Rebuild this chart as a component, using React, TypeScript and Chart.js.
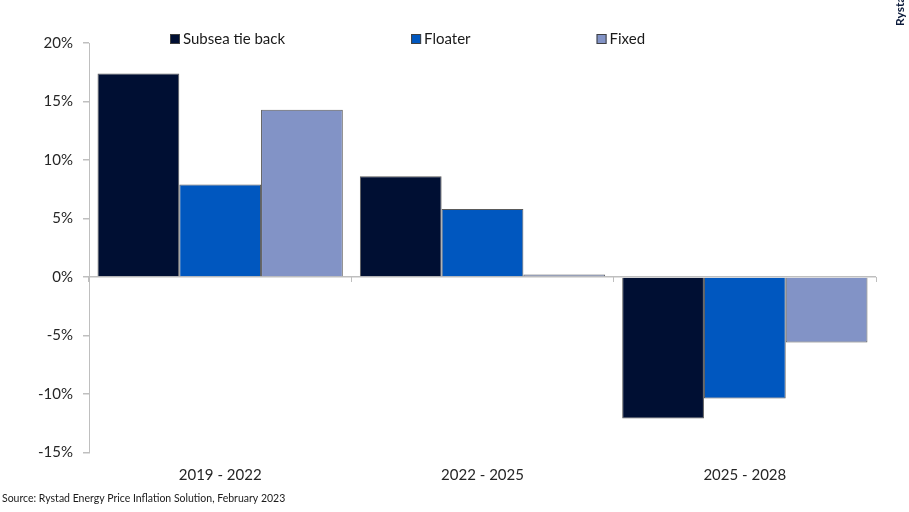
import React, { useRef, useEffect } from 'react'
import { Chart, registerables } from 'chart.js'

Chart.register(...registerables)

// data
const periods = ['2019 - 2022', '2022 - 2025', '2025 - 2028']
const subseaTieBack = [17.4, 8.6, -12.1]
const floater = [7.9, 5.8, -10.4]
const fixed = [14.3, 0.2, -5.6]
const seriesNames = ['Subsea tie back', 'Floater', 'Fixed']
const seriesColors = ['#000f33', '#0057bf', '#8293c6']
const yMin = -15
const yMax = 20
const yStep = 5
const sourceNote = 'Source: Rystad Energy Price Inflation Solution, February 2023'
const brandTag = 'Rystad Energy'

const FONT = 'Lato, "Open Sans", sans-serif'

// legend row + rotated brand tag, drawn by hand to sit where the original has them
const decorations = {
	id: 'decorations',
	afterDraw(chart: Chart) {
		const { ctx } = chart
		ctx.save()
		ctx.font = `15px ${FONT}`
		ctx.textBaseline = 'middle'
		ctx.textAlign = 'left'
		let x = 170
		chart.data.datasets.forEach((ds: any) => {
			ctx.fillStyle = ds.backgroundColor
			ctx.fillRect(x, 34, 10, 10)
			ctx.strokeStyle = '#404040'
			ctx.lineWidth = 1
			ctx.strokeRect(x + 0.5, 34.5, 9, 9)
			ctx.fillStyle = '#1a1a1a'
			ctx.fillText(ds.label, x + 13, 39)
			x += 13 + ctx.measureText(ds.label).width + 126
		})
		ctx.translate(904, 26)
		ctx.rotate(-Math.PI / 2)
		ctx.font = `bold 12px ${FONT}`
		ctx.fillStyle = '#0b1a3a'
		ctx.textBaseline = 'alphabetic'
		ctx.fillText(brandTag, 0, 0)
		ctx.restore()
	},
}

const PriceInflationChart: React.FC = () => {
	const chartRef = useRef<HTMLCanvasElement | null>(null)

	useEffect(() => {
		if (!chartRef.current) return
		const ctx = chartRef.current.getContext('2d')
		if (!ctx) return
		const values = [subseaTieBack, floater, fixed]
		const newChart = new Chart(ctx, {
			type: 'bar',
			data: {
				labels: periods,
				datasets: values.map((data, i) => ({
					label: seriesNames[i],
					data: data,
					backgroundColor: seriesColors[i],
					borderColor: '#5a5a5a',
					borderWidth: 1,
					categoryPercentage: 0.935,
					barPercentage: 1,
				})),
			},
			options: {
				animation: false,
				responsive: false,
				maintainAspectRatio: false,
				layout: {
					padding: { left: 2, right: 33, top: 43, bottom: 0 },
				},
				plugins: {
					legend: { display: false },
					tooltip: { enabled: false },
					subtitle: {
						display: true,
						text: sourceNote,
						position: 'bottom',
						align: 'start',
						color: '#1a1a1a',
						font: { family: FONT, size: 10.5 },
						padding: { top: 4, bottom: 7 },
					},
				},
				scales: {
					x: {
						type: 'category',
						position: 'bottom',
						offset: true,
						grid: { display: false },
						border: { display: false },
						ticks: {
							color: '#262626',
							font: { family: FONT, size: 15 },
							padding: 6,
						},
						afterFit: (scale: any) => {
							scale.height = 36
						},
					},
					xZero: {
						type: 'category',
						position: { y: 0 },
						offset: true,
						grid: {
							offset: true,
							drawOnChartArea: false,
							drawTicks: true,
							tickLength: 5,
							color: '#bfbfbf',
						},
						border: { display: false },
						ticks: { display: false },
					},
					y: {
						min: yMin,
						max: yMax,
						ticks: {
							stepSize: yStep,
							color: '#262626',
							font: { family: FONT, size: 15 },
							padding: 10,
							callback: (v: any) => `${v}%`,
						},
						grid: {
							color: (c: any) => (c.tick && c.tick.value === 0 ? '#bfbfbf' : 'rgba(0,0,0,0)'),
							tickColor: '#bfbfbf',
							tickLength: 6,
							lineWidth: 1.5,
						},
						border: { color: '#bfbfbf', width: 1 },
						afterFit: (scale: any) => {
							scale.width = 87
						},
					},
				},
			},
			plugins: [decorations],
		})

		return () => {
			newChart.destroy()
		}
	}, [])

	return <canvas ref={chartRef} width={909} height={512} style={{ display: 'block' }} />
}

export default function App() {
	return (
		<div style={{ position: 'absolute', left: 0, top: 0, width: 909, height: 512, background: '#fff' }}>
			<PriceInflationChart />
		</div>
	)
}
